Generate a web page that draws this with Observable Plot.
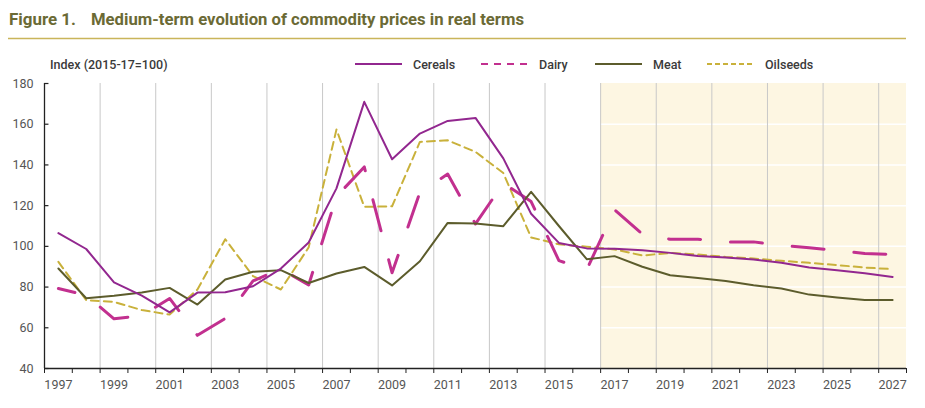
<!DOCTYPE html>
<html><head><meta charset="utf-8">
<script src="https://cdn.jsdelivr.net/npm/d3@7"></script>
<script src="https://cdn.jsdelivr.net/npm/@observablehq/plot@0.6"></script>
<style>
body{margin:0;background:#fff;}
#wrap{width:925px;height:408px;position:relative;overflow:hidden;}
#head{display:block;}
#chart svg{display:block;}
.t{font-family:"Liberation Sans Narrow","Roboto",sans-serif;font-weight:bold;font-size:17px;fill:#6b6a35;}
.l{font-family:"Roboto",sans-serif;font-weight:500;font-size:12.5px;fill:#3a3a3a;}
</style></head><body>
<div id="wrap">
<svg id="head" width="925" height="75">
  <text class="t" x="9" y="24.5" textLength="67" lengthAdjust="spacingAndGlyphs">Figure 1.</text>
  <text class="t" x="91" y="24.5" textLength="433" lengthAdjust="spacingAndGlyphs">Medium-term evolution of commodity prices in real terms</text>
  <line x1="8" x2="906" y1="38.5" y2="38.5" stroke="#c9b55a" stroke-width="1.5"/>
  <text class="l" x="50" y="68.5">Index (2015-17=100)</text>
  <line x1="355" x2="402" y1="64" y2="64" stroke="#92278f" stroke-width="2"/>
  <text class="l" x="413" y="68.5">Cereals</text>
  <line x1="481" x2="528" y1="64" y2="64" stroke="#c2308f" stroke-width="2" stroke-dasharray="7,6"/>
  <text class="l" x="539" y="68.5">Dairy</text>
  <line x1="595" x2="642" y1="64" y2="64" stroke="#5c5c2c" stroke-width="2"/>
  <text class="l" x="653" y="68.5">Meat</text>
  <line x1="707" x2="753" y1="64" y2="64" stroke="#c9b13b" stroke-width="2" stroke-dasharray="5,3"/>
  <text class="l" x="765" y="68.5">Oilseeds</text>
</svg>
<div id="chart"></div>
</div>
<script>
const years = [1997,1998,1999,2000,2001,2002,2003,2004,2005,2006,2007,2008,2009,2010,2011,2012,2013,2014,2015,2016,2017,2018,2019,2020,2021,2022,2023,2024,2025,2026,2027];
const cereals  = [106.5,98.7,82.3,75.8,67.6,77.3,77.5,80.4,89.1,101.9,128.5,171,142.8,155.4,161.6,163.1,143.2,116,101.7,99,98.8,98.1,96.8,95.3,94.5,93.5,92,89.6,88.3,86.8,85];
const dairy    = [79.3,76,64.4,66,74.4,56.3,64.6,83,89,81,124.5,139,87,126.5,135.5,111,131,122,93,88.5,118,106,103.5,103.5,102.2,102.2,100.5,99.3,98,96.5,96];
const meat     = [89.1,74.5,75.7,77.3,79.6,71.4,83.7,87.5,88.3,82,86.7,89.9,80.8,92.7,111.5,111.2,109.9,126.8,110,93.7,95.2,90,85.8,84.5,83,80.9,79.3,76.3,74.9,73.6,73.6];
const oilseeds = [92.4,73.6,72.7,68.7,66.5,78.8,103.5,85.4,78.8,99.5,157.4,119.4,119.7,151.3,152.1,146.4,136,104.4,101,99.8,98.5,95.5,96.8,96,94.8,94,92.9,91.9,90.8,89.6,88.8];
const yTicks = [40,60,80,100,120,140,160,180];
const xLabels = years.filter(y => y % 2 === 1);
const projectionStart = 2017;

const rows = years.map((year, i) => ({year, cereals: cereals[i], dairy: dairy[i], meat: meat[i], oilseeds: oilseeds[i]}));
const xDomain = [years[0] - 0.5, years[years.length - 1] + 0.5];
const yDomain = [yTicks[0], yTicks[yTicks.length - 1]];
const boundaries = [...years.map(y => y - 0.5), xDomain[1]];
const gridX = xLabels.slice(1).map(y => y - 0.5);
const shade = [{x1: projectionStart - 0.5, x2: xDomain[1], y1: yDomain[0], y2: yDomain[1]}];

const chart = Plot.plot({
  width: 925, height: 333,
  marginLeft: 44, marginRight: 19, marginTop: 8, marginBottom: 40,
  x: {domain: xDomain, axis: null},
  y: {domain: yDomain, axis: null},
  style: {fontFamily: "Roboto, sans-serif", fontSize: "12.5px", color: "#555", background: "transparent"},
  marks: [
    Plot.rect(shade, {x1: "x1", x2: "x2", y1: "y1", y2: "y2", fill: "#fdf6e2"}),
    Plot.ruleY(yTicks.slice(1, -1), {x1: shade[0].x1, x2: shade[0].x2, stroke: "#ffffff", strokeWidth: 1.5}),
    Plot.ruleX(gridX, {y1: yDomain[0], y2: yDomain[1], stroke: "#c8c8c8", strokeWidth: 1}),
    Plot.line(rows, {x: "year", y: "oilseeds", stroke: "#c9b13b", strokeWidth: 2, strokeDasharray: "8,5"}),
    Plot.line(rows, {x: "year", y: "dairy", stroke: "#c2308f", strokeWidth: 3, strokeDasharray: "32,30", strokeDashoffset: 15}),
    Plot.line(rows, {x: "year", y: "meat", stroke: "#5c5c2c", strokeWidth: 2}),
    Plot.line(rows, {x: "year", y: "cereals", stroke: "#92278f", strokeWidth: 2}),
    Plot.ruleY([yDomain[0]], {stroke: "#222", strokeWidth: 1.3}),
    Plot.ruleX([xDomain[0]], {y1: yDomain[0], y2: yDomain[1], stroke: "#222", strokeWidth: 1.3}),
    Plot.ruleY(yTicks, {x1: xDomain[0], x2: xDomain[0] + 0.16, stroke: "#222", strokeWidth: 1.2}),
    Plot.axisY(yTicks, {anchor: "left", tickSize: 0, tickPadding: 11, label: null, fill: "#555"}),
    Plot.axisX(boundaries, {anchor: "bottom", tickSize: 5, tickFormat: () => "", label: null, stroke: "#222"}),
    Plot.axisX(xLabels, {anchor: "bottom", tickSize: 0, tickPadding: 12, tickFormat: d => String(d), label: null, fill: "#555"})
  ]
});
document.getElementById("chart").appendChild(chart);
</script>
</body></html>
